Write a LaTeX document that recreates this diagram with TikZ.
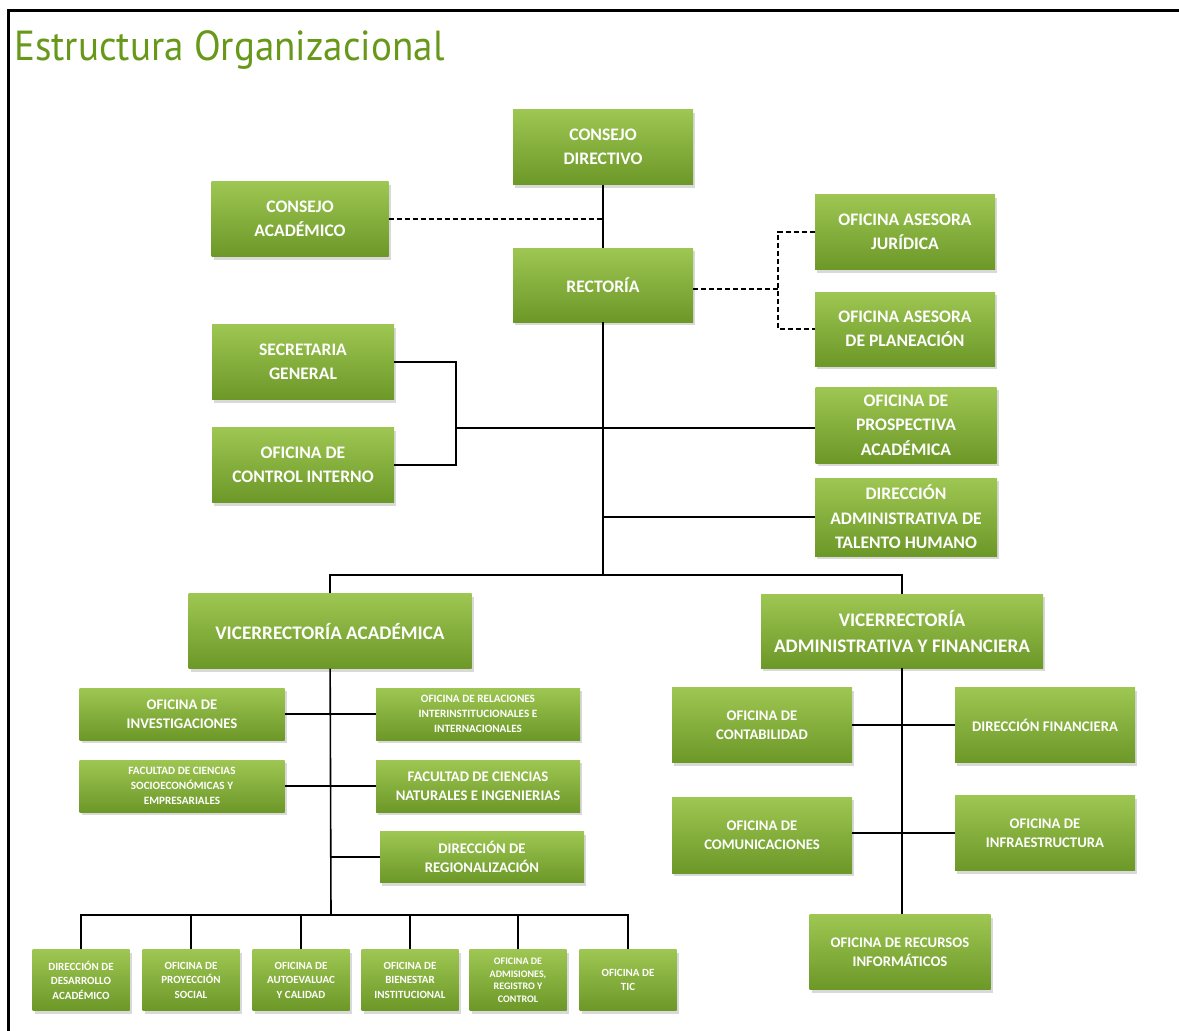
\documentclass[tikz,border=0pt]{standalone}
\usepackage{fontspec}
\setmainfont{Carlito}
\newfontfamily\titlefont{PT Sans}
\usetikzlibrary{shadows}
\definecolor{boxlight}{RGB}{158,198,82}
\definecolor{boxdark}{RGB}{108,152,40}
\definecolor{titlegreen}{RGB}{104,152,26}
\begin{document}
\begin{tikzpicture}[x=1pt,y=-1pt,
    orgbox/.style={rectangle,top color=boxlight,bottom color=boxdark,
        drop shadow={shadow xshift=2pt,shadow yshift=-3pt,opacity=0.3},
        text=white,align=center,inner sep=1pt},
    fbig/.style={font=\fontsize{17.6}{24.5}\selectfont\bfseries},
    fhuge/.style={font=\fontsize{19.2}{26}\selectfont\bfseries},
    fmid/.style={font=\fontsize{14.7}{19}\selectfont\bfseries},
    fsmall/.style={font=\fontsize{11.2}{15}\selectfont\bfseries},
    ftiny/.style={font=\fontsize{11}{14.5}\selectfont\bfseries},
    conn/.style={line width=1.6pt},
    dconn/.style={line width=1.6pt,dash pattern=on 5pt off 3pt}]
\useasboundingbox (0,0) rectangle (1179,1031);
\draw[line width=3pt] (8,1031) -- (8,10) -- (1179,10);
\node[text=titlegreen,anchor=west,xscale=0.93,font=\titlefont\fontsize{42}{46}\selectfont] (titulo) at (11,50) {Estructura Organizacional};

\node[orgbox,fbig,minimum width=180,minimum height=75] (cd) at (603,147) {CONSEJO\\DIRECTIVO};
\node[orgbox,fbig,minimum width=177,minimum height=75] (ca) at (300,219) {CONSEJO\\ACADÉMICO};
\node[orgbox,fbig,minimum width=180,minimum height=74] (rec) at (603,285) {RECTORÍA};
\node[orgbox,fbig,minimum width=180,minimum height=75] (oaj) at (905,232) {OFICINA ASESORA\\JURÍDICA};
\node[orgbox,fbig,minimum width=180,minimum height=74] (oap) at (905,329) {OFICINA ASESORA\\DE PLANEACIÓN};
\node[orgbox,fbig,minimum width=182,minimum height=75] (sg) at (303,362) {SECRETARIA\\GENERAL};
\node[orgbox,fbig,minimum width=182,minimum height=75] (oci) at (303,465) {OFICINA DE\\CONTROL INTERNO};
\node[orgbox,fbig,minimum width=181,minimum height=76] (opa) at (906,425) {OFICINA DE\\PROSPECTIVA\\ACADÉMICA};
\node[orgbox,fbig,minimum width=182,minimum height=78] (dth) at (906,517) {DIRECCIÓN\\ADMINISTRATIVA DE\\TALENTO HUMANO};

\node[orgbox,fhuge,minimum width=283,minimum height=75] (va) at (330,631) {VICERRECTORÍA ACADÉMICA};
\node[orgbox,fhuge,minimum width=282,minimum height=74] (vaf) at (902,631) {VICERRECTORÍA\\ADMINISTRATIVA Y FINANCIERA};

\node[orgbox,fmid,minimum width=205,minimum height=52] (oi) at (182,714) {OFICINA DE\\INVESTIGACIONES};
\node[orgbox,fsmall,minimum width=204,minimum height=52] (ori) at (478,714) {OFICINA DE RELACIONES\\INTERINSTITUCIONALES E\\INTERNACIONALES};
\node[orgbox,fsmall,minimum width=205,minimum height=52] (fcs) at (182,786) {FACULTAD DE CIENCIAS\\SOCIOECONÓMICAS Y\\EMPRESARIALES};
\node[orgbox,fmid,minimum width=204,minimum height=52] (fcn) at (478,786) {FACULTAD DE CIENCIAS\\NATURALES E INGENIERIAS};
\node[orgbox,fmid,minimum width=204,minimum height=51] (dr) at (482,857) {DIRECCIÓN DE\\REGIONALIZACIÓN};

\node[orgbox,ftiny,minimum width=97,minimum height=61] (b1) at (81,980) {DIRECCIÓN DE\\DESARROLLO\\ACADÉMICO};
\node[orgbox,ftiny,minimum width=97,minimum height=61] (b2) at (191,980) {OFICINA DE\\PROYECCIÓN\\SOCIAL};
\node[orgbox,ftiny,minimum width=97,minimum height=61] (b3) at (301,980) {OFICINA DE\\AUTOEVALUAC\\Y CALIDAD};
\node[orgbox,ftiny,minimum width=97,minimum height=61] (b4) at (410,980) {OFICINA DE\\BIENESTAR\\INSTITUCIONAL};
\node[orgbox,ftiny,font=\fontsize{10}{12.5}\selectfont\bfseries,minimum width=97,minimum height=61] (b5) at (518,980) {OFICINA DE\\ADMISIONES,\\REGISTRO Y\\CONTROL};
\node[orgbox,ftiny,minimum width=97,minimum height=61] (b6) at (628,980) {OFICINA DE\\TIC};

\node[orgbox,fmid,minimum width=180,minimum height=75] (oc) at (762,725) {OFICINA DE\\CONTABILIDAD};
\node[orgbox,fmid,minimum width=180,minimum height=75] (df) at (1045,725) {DIRECCIÓN FINANCIERA};
\node[orgbox,fmid,minimum width=180,minimum height=76] (ocom) at (762,835) {OFICINA DE\\COMUNICACIONES};
\node[orgbox,fmid,minimum width=180,minimum height=75] (oinf) at (1045,833) {OFICINA DE\\INFRAESTRUCTURA};
\node[orgbox,fmid,minimum width=181,minimum height=75] (rinf) at (900,952) {OFICINA DE RECURSOS\\INFORMÁTICOS};

\coordinate (dj) at (778,289);
\coordinate (sgj) at (456,428);
\coordinate (busc) at (603,575);
\coordinate (vbus) at (331,915);

\draw[conn] (cd) -- (rec);
\draw[dconn] (ca.east) -- (ca.east -| cd.south);
\draw[dconn] (rec.east |- dj) -- (dj);
\draw[dconn] (oaj.west) -| (dj) |- (oap.west);
\draw[conn] (rec) -- (busc);
\draw[conn] (sg.east) -| (sgj) |- (oci.east);
\draw[conn] (sgj) -- (sgj -| opa.west);
\draw[conn] (dth.west) -- (dth.west -| rec);
\draw[conn] (va.north) |- (busc) -| (vaf.north);

\draw[conn] (va) -- (vbus);
\draw[conn] (oi) -- (ori);
\draw[conn] (fcs) -- (fcn);
\draw[conn] (dr.west) -- (dr.west -| vbus);
\draw[conn] (b1.north) |- (vbus -| b6.north) -- (b6.north);
\foreach \i in {2,...,5}
    \draw[conn] (b\i.north) -- (b\i.north |- vbus);

\draw[conn] (vaf) -- (vaf.south |- rinf.north);
\draw[conn] (oc) -- (df);
\draw[conn] (ocom.east |- oinf) -- (oinf);
\end{tikzpicture}
\end{document}
